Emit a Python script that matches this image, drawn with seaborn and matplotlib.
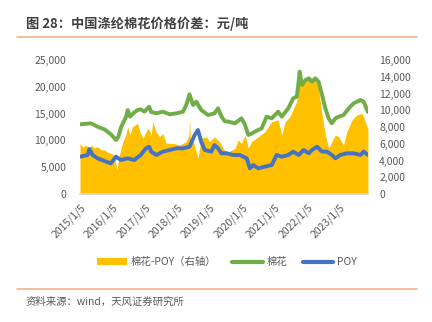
import matplotlib
matplotlib.use("Agg")
import matplotlib.pyplot as plt
import seaborn as sns
import pandas as pd
from matplotlib.patches import Patch
from matplotlib.lines import Line2D

# ---------------- data (decimal years, 元/吨) ----------------
cotton_t = [2015.01, 2015.2, 2015.35, 2015.55, 2015.76, 2015.96, 2016.12, 2016.19, 2016.28, 2016.43,
            2016.48, 2016.55, 2016.68, 2016.78, 2016.88, 2016.99, 2017.14, 2017.2, 2017.36, 2017.56,
            2017.77, 2017.98, 2018.18, 2018.28, 2018.38, 2018.49, 2018.59, 2018.74, 2018.95, 2019.15,
            2019.26, 2019.36, 2019.46, 2019.57, 2019.78, 2019.98, 2020.09, 2020.19, 2020.3, 2020.39,
            2020.6, 2020.75, 2020.91, 2021.11, 2021.22, 2021.42, 2021.57, 2021.68, 2021.72, 2021.77,
            2021.84, 2021.95, 2022.05, 2022.15, 2022.25, 2022.35, 2022.46, 2022.56, 2022.66, 2022.76,
            2022.87, 2022.97, 2023.12, 2023.28, 2023.43, 2023.64, 2023.74, 2023.87]
cotton_v = [13000, 13100, 13190, 12560, 12070, 11140, 10075, 10690, 12560, 14430,
            15670, 14430, 15200, 15670, 15800, 15360, 16290, 15300, 15050, 15360,
            14870, 15050, 15360, 16600, 18600, 16600, 17220, 15670, 14740, 15050,
            15990, 14500, 13600, 13500, 13190, 14120, 12870, 11010, 11300, 11630,
            12250, 14430, 14120, 15360, 14430, 15990, 17850, 18160, 20000, 22820,
            20340, 21270, 21580, 20960, 21580, 20960, 18470, 15990, 14120, 13190,
            14120, 14430, 14740, 15990, 16920, 17540, 17220, 15300]

poy_t = [2015.01, 2015.25, 2015.3, 2015.4, 2015.55, 2015.76, 2015.96, 2016.12, 2016.27, 2016.48,
         2016.68, 2016.88, 2017.04, 2017.14, 2017.2, 2017.36, 2017.56, 2017.77, 2017.98, 2018.18,
         2018.38, 2018.54, 2018.64, 2018.74, 2018.85, 2019.05, 2019.15, 2019.26, 2019.36, 2019.52,
         2019.73, 2019.93, 2020.14, 2020.24, 2020.34, 2020.5, 2020.7, 2020.91, 2021.06, 2021.22,
         2021.42, 2021.57, 2021.74, 2021.89, 2022.05, 2022.15, 2022.3, 2022.46, 2022.61, 2022.76,
         2022.87, 2023.02, 2023.22, 2023.43, 2023.64, 2023.74, 2023.87]
poy_v = [6960, 7280, 8400, 7280, 6660, 6160, 5720, 6960, 6340, 6660,
         6340, 7280, 8520, 8830, 7900, 7280, 7900, 8210, 8520, 8520,
         8830, 11010, 11940, 9760, 8210, 7900, 9140, 8520, 7590, 7590,
         7280, 7280, 6660, 4790, 5410, 4790, 5100, 5410, 7280, 6960,
         7280, 7900, 7280, 8210, 7590, 8210, 8830, 7900, 7900, 7280,
         6660, 7280, 7590, 7590, 7280, 7900, 7280]

spread_t = [2015.01, 2015.1, 2015.2, 2015.3, 2015.35, 2015.45, 2015.55, 2015.65, 2015.76, 2015.86,
            2015.96, 2016.05, 2016.15, 2016.2, 2016.33, 2016.43, 2016.48, 2016.55, 2016.63, 2016.78,
            2016.85, 2016.95, 2017.09, 2017.14, 2017.2, 2017.25, 2017.35, 2017.46, 2017.56, 2017.66,
            2017.87, 2018.08, 2018.28, 2018.36, 2018.38, 2018.41, 2018.5, 2018.64, 2018.74, 2018.9,
            2019.0, 2019.15, 2019.3, 2019.45, 2019.57, 2019.78, 2019.88, 2019.98, 2020.09, 2020.19,
            2020.29, 2020.5, 2020.7, 2020.91, 2021.11, 2021.22, 2021.32, 2021.47, 2021.6, 2021.68,
            2021.77, 2021.85, 2022.0, 2022.15, 2022.25, 2022.35, 2022.46, 2022.56, 2022.66, 2022.76,
            2022.87, 2022.97, 2023.12, 2023.22, 2023.38, 2023.53, 2023.69, 2023.79, 2023.87]
spread_v = [6050, 5600, 5850, 5400, 5850, 5500, 5650, 5300, 5250, 5000,
            4860, 4660, 2870, 4260, 6250, 7200, 8040, 7050, 8040, 8440,
            7440, 6650, 7840, 7640, 7050, 8630, 7440, 6840, 7240, 6050,
            6050, 5850, 6250, 7000, 9040, 6500, 6250, 4260, 6650, 6840,
            6250, 6840, 6250, 5250, 5050, 5450, 6450, 6050, 7050, 5450,
            6250, 6840, 7440, 8630, 8840, 7050, 8630, 9230, 10400, 11020,
            13610, 13010, 13810, 13410, 13610, 12620, 9430, 7050, 5450, 6250,
            7050, 6840, 5850, 7440, 8840, 9430, 9640, 8630, 7640]

tick_years = [2015, 2016, 2017, 2018, 2019, 2020, 2021, 2022, 2023]
tick_labels = [f"{y}/1/5" for y in tick_years]
left_ticks = [0, 5000, 10000, 15000, 20000, 25000]
right_ticks = [0, 2000, 4000, 6000, 8000, 10000, 12000, 14000, 16000]

title = "图 28：中国涤纶棉花价格价差：元/吨"
source = "资料来源：wind，天风证券研究所"
legend_labels = ["棉花-POY（右轴）", "棉花", "POY"]

# ---------------- style ----------------
sns.set_theme(style="white")
plt.rcParams["font.family"] = ["Noto Sans CJK SC", "DejaVu Sans"]
YELLOW, GREEN, BLUE = "#FFC000", "#70AD47", "#4472C4"
GREY = "#595959"

fig = plt.figure(figsize=(4.32, 3.22), dpi=100)
ax = fig.add_axes([80 / 432, 1 - 194 / 322, 288 / 432, 134 / 322])
ax2 = ax.twinx()

cot_df = pd.DataFrame({"t": cotton_t, "v": cotton_v})
poy_df = pd.DataFrame({"t": poy_t, "v": poy_v})
spr_df = pd.DataFrame({"t": spread_t, "v": spread_v})

ax2.fill_between(spr_df["t"], 0, spr_df["v"], color=YELLOW, linewidth=0)
sns.lineplot(data=cot_df, x="t", y="v", ax=ax, color=GREEN, linewidth=2.8)
sns.lineplot(data=poy_df, x="t", y="v", ax=ax, color=BLUE, linewidth=2.8)

ax.set_zorder(ax2.get_zorder() + 1)
ax.patch.set_visible(False)

x0 = 2015 + 4 / 365.25
ax.set_xlim(x0, x0 + 288 / 32.5)
ax.set_ylim(0, 25000)
ax2.set_ylim(0, 16000)

ax.set_xticks([y + 4 / 365.25 for y in tick_years])
ax.set_xticklabels(tick_labels, rotation=45, ha="right", rotation_mode="anchor",
                   fontsize=7.5, color=GREY)
ax.set_yticks(left_ticks)
ax.set_yticklabels([f"{v:,}" for v in left_ticks], fontsize=7.5, color=GREY)
ax2.set_yticks(right_ticks)
ax2.set_yticklabels([f"{v:,}" for v in right_ticks], fontsize=7.5, color=GREY)
ax.set_xlabel("")
ax.set_ylabel("")
ax2.set_ylabel("")

for a in (ax, ax2):
    for s in ("top", "left", "right"):
        a.spines[s].set_visible(False)
    a.spines["bottom"].set_color("#D9D9D9")
    a.grid(False)
ax2.spines["bottom"].set_visible(False)
ax.tick_params(axis="x", direction="out", length=4, width=0.8, color="#D9D9D9", pad=2)
ax.tick_params(axis="y", length=0, pad=10)
ax2.tick_params(axis="y", length=0, pad=8)

# legend
handles = [Patch(facecolor=YELLOW, edgecolor="none"),
           Line2D([0], [0], color=GREEN, linewidth=3),
           Line2D([0], [0], color=BLUE, linewidth=3)]
fig.legend(handles, legend_labels, loc="center", bbox_to_anchor=(227 / 432, 1 - 262 / 322),
           ncol=3, frameon=False, fontsize=7.5, handlelength=2.9, handleheight=0.6,
           handletextpad=0.4, columnspacing=1.5, labelcolor=GREY)

# title, rules, source
fig.text(26 / 432, 1 - 24 / 322, title, fontsize=9.5, fontweight="bold", color="#404040",
         va="center", ha="left")
fig.add_artist(Line2D([17 / 432, 417 / 432], [1 - 37 / 322] * 2, color="#F4B183", linewidth=1.2))
fig.add_artist(Line2D([17 / 432, 417 / 432], [1 - 289 / 322] * 2, color="#F4B183", linewidth=1.2))
fig.text(26 / 432, 1 - 302 / 322, source, fontsize=7.5, color=GREY, va="center", ha="left")

fig.savefig("out.png", dpi=100)
